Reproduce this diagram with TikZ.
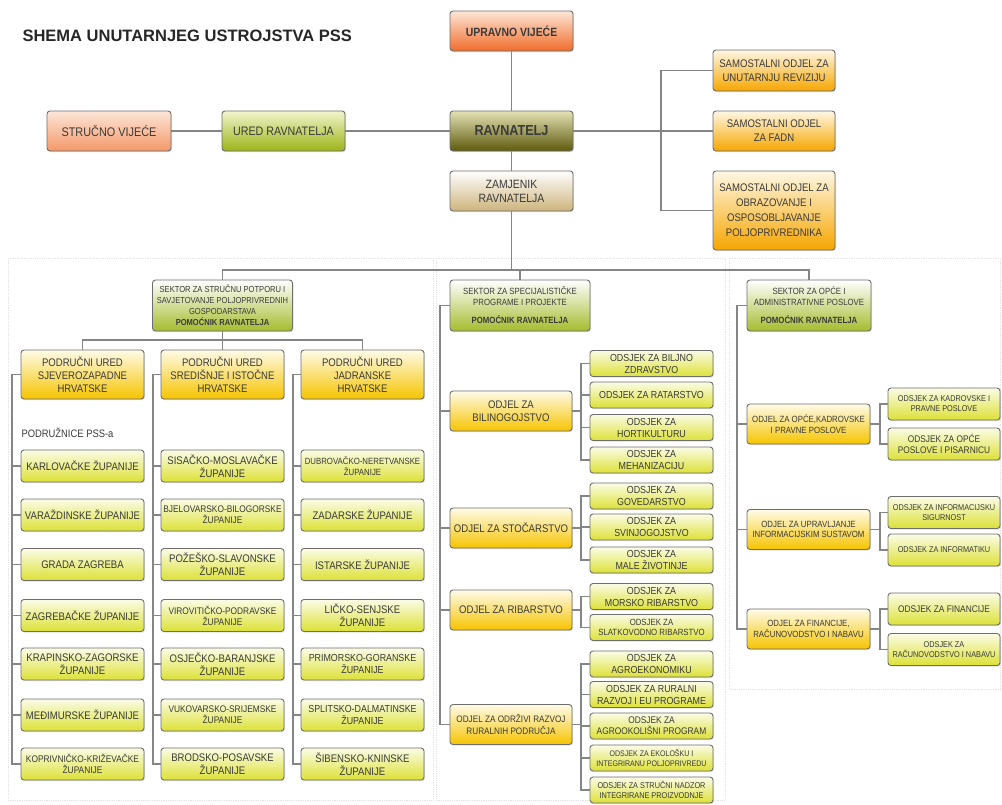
\documentclass[tikz,border=0pt]{standalone}
\usepackage{fontspec}
\setmainfont{Liberation Sans}[FakeStretch=0.87]
\newfontfamily\naslovfont{Liberation Sans}
\usetikzlibrary{shadows}

\definecolor{boxline}{HTML}{6E6E6E}
\definecolor{linegray}{HTML}{858585}
\definecolor{txt}{HTML}{3A3A3A}
\definecolor{orTop}{HTML}{FDE6D6}
\definecolor{orBot}{HTML}{F06C2A}
\definecolor{saTop}{HTML}{FDE6D8}
\definecolor{saBot}{HTML}{F49868}
\definecolor{grTop}{HTML}{F1F5CC}
\definecolor{grBot}{HTML}{9BB416}
\definecolor{raTop}{HTML}{E4E1B4}
\definecolor{raBot}{HTML}{5E5A0C}
\definecolor{zaTop}{HTML}{FFFFFF}
\definecolor{zaBot}{HTML}{CDB47C}
\definecolor{amTop}{HTML}{FFF7E4}
\definecolor{amBot}{HTML}{F6A600}
\definecolor{goTop}{HTML}{FFFBE8}
\definecolor{goBot}{HTML}{F6C400}
\definecolor{liTop}{HTML}{FBFCE6}
\definecolor{liBot}{HTML}{DCE136}

\newcommand\fA{\fontsize{11}{13}\selectfont}
\newcommand\fB{\fontsize{10.2}{12}\selectfont}
\newcommand\fC{\fontsize{9.6}{11.2}\selectfont}
\newcommand\fD{\fontsize{9}{10.6}\selectfont}
\newcommand\fE{\fontsize{8.4}{10}\selectfont}
\newcommand\fF{\fontsize{8.1}{9.6}\selectfont}

\begin{document}
\begin{tikzpicture}[x=1pt, y=-1pt]
  \tikzstyle{blok} = [rectangle, draw=boxline, line width=0.9pt, rounded corners=3pt,
                      align=center, inner sep=1pt, text=txt,
                      drop shadow={shadow xshift=1pt, shadow yshift=-1.2pt, opacity=0.25}]
  \tikzstyle{vijece} = [blok, minimum width=123, minimum height=40, top color=orTop, bottom color=orBot, font=\fontsize{12}{14}\selectfont\bfseries]
  \tikzstyle{strucno} = [blok, minimum width=124, minimum height=40, top color=saTop, bottom color=saBot, font=\fontsize{12.5}{14}\selectfont]
  \tikzstyle{ured} = [blok, minimum width=123, minimum height=40, top color=grTop, bottom color=grBot, font=\fontsize{12.3}{14}\selectfont]
  \tikzstyle{ravnatelj} = [blok, minimum width=123, minimum height=40, top color=raTop, bottom color=raBot, font=\fontsize{14.5}{16}\selectfont\bfseries]
  \tikzstyle{zamjenik} = [blok, minimum width=123, minimum height=40, top color=zaTop, bottom color=zaBot, font=\fontsize{12}{14}\selectfont]
  \tikzstyle{samostalni} = [blok, minimum width=122, top color=amTop, bottom color=amBot, font=\fontsize{11}{14}\selectfont]
  \tikzstyle{sektor} = [blok, minimum width=140, minimum height=51, top color=white, bottom color=grBot!90, font=\fD]
  \tikzstyle{podrucni} = [blok, minimum width=123, minimum height=49, top color=goTop, bottom color=goBot, font=\fA]
  \tikzstyle{odjel} = [blok, minimum width=122, minimum height=40, top color=goTop, bottom color=goBot, font=\fA]
  \tikzstyle{zupanija} = [blok, minimum width=123, minimum height=32, top color=liTop, bottom color=liBot, font=\fA]
  \tikzstyle{odsjek} = [blok, minimum width=123, minimum height=26, top color=liTop, bottom color=liBot, font=\fB]
  \tikzstyle{odsjekd} = [blok, minimum width=112, minimum height=32, top color=liTop, bottom color=liBot, font=\fC]
  \tikzstyle{veza} = [draw=linegray, line width=1.2pt]
  \tikzstyle{panel} = [draw=gray!22, densely dotted, line width=0.8pt]

\useasboundingbox (0,0) rectangle (1002,804);

% pozadinski okviri sektora
\draw[panel] (8,258) rectangle (433,800);
\draw[panel] (436,258) rectangle (725,800);
\draw[panel] (729,258) rectangle (1000,689);

\node[anchor=west, font=\naslovfont\fontsize{16.5}{18}\selectfont\bfseries, text=black!85] (naslov) at (19,36) {SHEMA UNUTARNJEG USTROJSTVA PSS};

% vrh
\node[vijece] (uv) at (511.5,31) {UPRAVNO VIJEĆE};
\node[strucno] (sv) at (109,131) {STRUČNO VIJEĆE};
\node[ured] (ur) at (283.5,131) {URED RAVNATELJA};
\node[ravnatelj] (rav) at (511.5,131) {RAVNATELJ};
\node[zamjenik] (zam) at (511.5,191) {ZAMJENIK\\RAVNATELJA};
\node[samostalni, minimum height=41] (sam1) at (774,70.5) {SAMOSTALNI ODJEL ZA\\UNUTARNJU REVIZIJU};
\node[samostalni, minimum height=40] (sam2) at (774,131) {SAMOSTALNI ODJEL\\ZA FADN};
\node[samostalni, minimum height=79, font=\fontsize{11}{15}\selectfont] (sam3) at (774,210.5) {SAMOSTALNI ODJEL ZA\\OBRAZOVANJE I\\OSPOSOBLJAVANJE\\POLJOPRIVREDNIKA};

% sektori
\node[sektor, font=\fontsize{8.7}{11}\selectfont] (sek1) at (222.5,305.5) {SEKTOR ZA STRUČNU POTPORU I\\SAVJETOVANJE POLJOPRIVREDNIH\\GOSPODARSTAVA\\\textbf{POMOĆNIK RAVNATELJA}};
\node[sektor] (sek2) at (520,305.5) {SEKTOR ZA SPECIJALISTIČKE\\PROGRAME I PROJEKTE\\[8pt]\textbf{POMOĆNIK RAVNATELJA}};
\node[sektor, minimum width=124] (sek3) at (809,305.5) {SEKTOR ZA OPĆE I\\ADMINISTRATIVNE POSLOVE\\[8pt]\textbf{POMOĆNIK RAVNATELJA}};

% podrucni uredi
\node[podrucni] (pu1) at (82.5,374.5) {PODRUČNI URED\\SJEVEROZAPADNE\\HRVATSKE};
\node[podrucni] (pu2) at (222.5,374.5) {PODRUČNI URED\\SREDIŠNJE I ISTOČNE\\HRVATSKE};
\node[podrucni] (pu3) at (362.5,374.5) {PODRUČNI URED\\JADRANSKE\\HRVATSKE};
\node[anchor=west, font=\fontsize{10.8}{12}\selectfont, text=txt] (podr) at (18,433) {PODRUŽNICE PSS-a};

\node[zupanija] (z11) at (82.5,466) {KARLOVAČKE ŽUPANIJE};
\node[zupanija] (z12) at (82.5,515) {VARAŽDINSKE ŽUPANIJE};
\node[zupanija] (z13) at (82.5,564.5) {GRADA ZAGREBA};
\node[zupanija] (z14) at (82.5,615.5) {ZAGREBAČKE ŽUPANIJE};
\node[zupanija] (z15) at (82.5,664) {KRAPINSKO-ZAGORSKE\\ŽUPANIJE};
\node[zupanija] (z16) at (82.5,715) {MEĐIMURSKE ŽUPANIJE};
\node[zupanija, font=\fC] (z17) at (82.5,764) {KOPRIVNIČKO-KRIŽEVAČKE\\ŽUPANIJE};

\node[zupanija] (z21) at (222.5,466) {SISAČKO-MOSLAVAČKE\\ŽUPANIJE};
\node[zupanija, font=\fC] (z22) at (222.5,515) {BJELOVARSKO-BILOGORSKE\\ŽUPANIJE};
\node[zupanija] (z23) at (222.5,564.5) {POŽEŠKO-SLAVONSKE\\ŽUPANIJE};
\node[zupanija, font=\fC] (z24) at (222.5,615.5) {VIROVITIČKO-PODRAVSKE\\ŽUPANIJE};
\node[zupanija] (z25) at (222.5,664) {OSJEČKO-BARANJSKE\\ŽUPANIJE};
\node[zupanija, font=\fC] (z26) at (222.5,715) {VUKOVARSKO-SRIJEMSKE\\ŽUPANIJE};
\node[zupanija] (z27) at (222.5,764) {BRODSKO-POSAVSKE\\ŽUPANIJE};

\node[zupanija, font=\fD] (z31) at (362.5,466) {DUBROVAČKO-NERETVANSKE\\ŽUPANIJE};
\node[zupanija] (z32) at (362.5,515) {ZADARSKE ŽUPANIJE};
\node[zupanija] (z33) at (362.5,564.5) {ISTARSKE ŽUPANIJE};
\node[zupanija] (z34) at (362.5,615.5) {LIČKO-SENJSKE\\ŽUPANIJE};
\node[zupanija, font=\fB] (z35) at (362.5,664) {PRIMORSKO-GORANSKE\\ŽUPANIJE};
\node[zupanija, font=\fB] (z36) at (362.5,715) {SPLITSKO-DALMATINSKE\\ŽUPANIJE};
\node[zupanija] (z37) at (362.5,764) {ŠIBENSKO-KNINSKE\\ŽUPANIJE};

% sektor za specijalisticke programe
\node[odjel] (oj1) at (511,411) {ODJEL ZA\\BILINOGOJSTVO};
\node[odjel] (oj2) at (511,528) {ODJEL ZA STOČARSTVO};
\node[odjel] (oj3) at (511,610) {ODJEL ZA RIBARSTVO};
\node[odjel, font=\fontsize{9.4}{12}\selectfont] (oj4) at (511,724.5) {ODJEL ZA ODRŽIVI RAZVOJ\\RURALNIH PODRUČJA};

\node[odsjek] (od1) at (651.5,363.5) {ODSJEK ZA BILJNO\\ZDRAVSTVO};
\node[odsjek] (od2) at (651.5,395) {ODSJEK ZA RATARSTVO};
\node[odsjek] (od3) at (651.5,427.5) {ODSJEK ZA\\HORTIKULTURU};
\node[odsjek] (od4) at (651.5,460) {ODSJEK ZA\\MEHANIZACIJU};
\node[odsjek] (od5) at (651.5,496) {ODSJEK ZA\\GOVEDARSTVO};
\node[odsjek] (od6) at (651.5,527) {ODSJEK ZA\\SVINJOGOJSTVO};
\node[odsjek] (od7) at (651.5,560) {ODSJEK ZA\\MALE ŽIVOTINJE};
\node[odsjek] (od8) at (651.5,596.5) {ODSJEK ZA\\MORSKO RIBARSTVO};
\node[odsjek, font=\fD] (od9) at (651.5,627.5) {ODSJEK ZA\\SLATKOVODNO RIBARSTVO};
\node[odsjek] (od10) at (651.5,664) {ODSJEK ZA\\AGROEKONOMIKU};
\node[odsjek] (od11) at (651.5,694.5) {ODSJEK ZA RURALNI\\RAZVOJ I EU PROGRAME};
\node[odsjek, font=\fC] (od12) at (651.5,726) {ODSJEK ZA\\AGROOKOLIŠNI PROGRAM};
\node[odsjek, font=\fF] (od13) at (651.5,758) {ODSJEK ZA EKOLOŠKU I\\INTEGRIRANU POLJOPRIVREDU};
\node[odsjek, font=\fE] (od14) at (651.5,790) {ODSJEK ZA STRUČNI NADZOR\\INTEGRIRANE PROIZVODNJE};

% sektor za opce i administrativne poslove
\node[odjel, minimum width=123, font=\fD] (oo1) at (808.5,424) {ODJEL ZA OPĆE,KADROVSKE\\I PRAVNE POSLOVE};
\node[odjel, minimum width=123, font=\fD] (oo2) at (808.5,529.5) {ODJEL ZA UPRAVLJANJE\\INFORMACIJSKIM SUSTAVOM};
\node[odjel, minimum width=123, font=\fD] (oo3) at (808.5,629) {ODJEL ZA FINANCIJE,\\RAČUNOVODSTVO I NABAVU};

\node[odsjekd, font=\fE] (os1) at (944,404) {ODSJEK ZA KADROVSKE I\\PRAVNE POSLOVE};
\node[odsjekd] (os2) at (944,444) {ODSJEK ZA OPĆE\\POSLOVE I PISARNICU};
\node[odsjekd, font=\fE] (os3) at (944,512.5) {ODSJEK ZA INFORMACIJSKU\\SIGURNOST};
\node[odsjekd, font=\fE] (os4) at (944,550) {ODSJEK ZA INFORMATIKU};
\node[odsjekd] (os5) at (944,609) {ODSJEK ZA FINANCIJE};
\node[odsjekd, font=\fE] (os6) at (944,649.5) {ODSJEK ZA\\RAČUNOVODSTVO I NABAVU};

% tocke grananja
\coordinate (rb) at (661,131);
\coordinate (bus) at (511.5,270);
\coordinate (pb) at (222.5,340);
\coordinate (t1) at (12,374.5);
\coordinate (t2) at (153,374.5);
\coordinate (t3) at (293,374.5);
\coordinate (t4) at (440,305.5);
\coordinate (t5) at (737,305.5);
\coordinate (b1) at (581,411);
\coordinate (b2) at (581,528);
\coordinate (b3) at (581,610);
\coordinate (b4) at (581,724.5);
\coordinate (c1) at (880,424);
\coordinate (c2) at (880,529.5);
\coordinate (c3) at (880,629);

% veze vrh
\draw[veza] (uv) -- (rav);
\draw[veza] (rav) -- (zam);
\draw[veza] (sv) -- (ur);
\draw[veza] (ur) -- (rav);
\draw[veza] (rav) -- (rb);
\draw[veza] (sam1.west) -| (rb) |- (sam3.west);
\draw[veza] (rb) -- (sam2);
\draw[veza] (zam) -- (bus);
\draw[veza] (sek1.north) |- (bus) -| (sek3.north);
\draw[veza] (sek2.north) -- (sek2.north |- bus);

% veze sektor 1
\draw[veza] (sek1) -- (pb);
\draw[veza] (pu1.north) |- (pb) -| (pu3.north);
\draw[veza] (pu2) -- (pb);
\draw[veza] (pu1.west) -- (t1) |- (z17.west);
\draw[veza] (t1) |- (z11.west);
\draw[veza] (t1) |- (z12.west);
\draw[veza] (t1) |- (z13.west);
\draw[veza] (t1) |- (z14.west);
\draw[veza] (t1) |- (z15.west);
\draw[veza] (t1) |- (z16.west);
\draw[veza] (pu2.west) -- (t2) |- (z27.west);
\draw[veza] (t2) |- (z21.west);
\draw[veza] (t2) |- (z22.west);
\draw[veza] (t2) |- (z23.west);
\draw[veza] (t2) |- (z24.west);
\draw[veza] (t2) |- (z25.west);
\draw[veza] (t2) |- (z26.west);
\draw[veza] (pu3.west) -- (t3) |- (z37.west);
\draw[veza] (t3) |- (z31.west);
\draw[veza] (t3) |- (z32.west);
\draw[veza] (t3) |- (z33.west);
\draw[veza] (t3) |- (z34.west);
\draw[veza] (t3) |- (z35.west);
\draw[veza] (t3) |- (z36.west);

% veze sektor 2
\draw[veza] (sek2.west) -- (t4) |- (oj4.west);
\draw[veza] (t4) |- (oj1.west);
\draw[veza] (t4) |- (oj2.west);
\draw[veza] (t4) |- (oj3.west);
\draw[veza] (oj1.east) -- (b1);
\draw[veza] (b1) |- (od1.west);
\draw[veza] (b1) |- (od2.west);
\draw[veza] (b1) |- (od3.west);
\draw[veza] (b1) |- (od4.west);
\draw[veza] (oj2.east) -- (b2);
\draw[veza] (b2) |- (od5.west);
\draw[veza] (b2) |- (od6.west);
\draw[veza] (b2) |- (od7.west);
\draw[veza] (oj3.east) -- (b3);
\draw[veza] (b3) |- (od8.west);
\draw[veza] (b3) |- (od9.west);
\draw[veza] (oj4.east) -- (b4);
\draw[veza] (b4) |- (od10.west);
\draw[veza] (b4) |- (od11.west);
\draw[veza] (b4) |- (od12.west);
\draw[veza] (b4) |- (od13.west);
\draw[veza] (b4) |- (od14.west);

% veze sektor 3
\draw[veza] (sek3.west) -- (t5) |- (oo3.west);
\draw[veza] (t5) |- (oo1.west);
\draw[veza] (t5) |- (oo2.west);
\draw[veza] (oo1.east) -- (c1);
\draw[veza] (c1) |- (os1.west);
\draw[veza] (c1) |- (os2.west);
\draw[veza] (oo2.east) -- (c2);
\draw[veza] (c2) |- (os3.west);
\draw[veza] (c2) |- (os4.west);
\draw[veza] (oo3.east) -- (c3);
\draw[veza] (c3) |- (os5.west);
\draw[veza] (c3) |- (os6.west);
\end{tikzpicture}
\end{document}
